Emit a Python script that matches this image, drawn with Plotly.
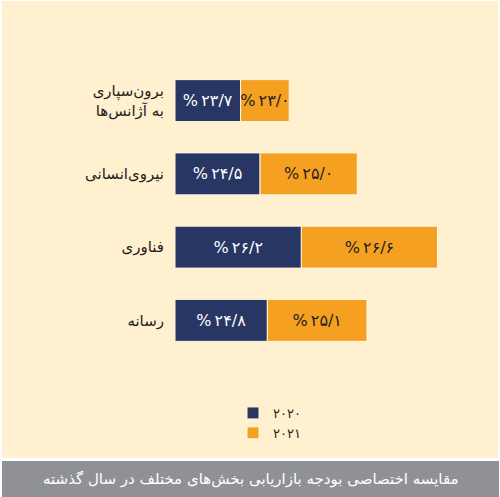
import plotly.graph_objects as go

# ---- data ----
categories = ["برون‌سپاری<br>به آژانس‌ها", "نیروی‌انسانی", "فناوری", "رسانه"]
values_2020 = [23.7, 24.5, 26.2, 24.8]
values_2021 = [23.0, 25.0, 26.6, 25.1]
series_names = ["۲۰۲۰", "۲۰۲۱"]
title_text = "مقایسه اختصاصی بودجه بازاریابی بخش‌های مختلف در سال گذشته"

BASELINE = 21.0  # bars in the reference are drawn from a baseline of ~21%

FA_DIGITS = str.maketrans("0123456789.", "۰۱۲۳۴۵۶۷۸۹/")


def fa_label(v):
    return "%\u2009" + f"{v:.1f}".translate(FA_DIGITS)


NAVY = "#283664"
ORANGE = "#F5A021"
BEIGE = "#FFF0CF"
GRAY = "#8F9194"
FONT = "DejaVu Sans"

W, H = 500, 497
PX_L, PX_R, PY_T, PY_B = 175, 480, 64, 357


def xp(px):
    return (px - PX_L) / (PX_R - PX_L)


def yp(py):
    return (PY_B - py) / (PY_B - PY_T)


len_2020 = [v - BASELINE for v in values_2020]
len_2021 = [v - BASELINE for v in values_2021]

fig = go.Figure()
fig.add_trace(go.Bar(
    name=series_names[0], y=categories, x=len_2020, base=[0] * len(categories),
    orientation="h", marker=dict(color=NAVY, line=dict(color="#FFF7E4", width=1)),
    text=[fa_label(v) for v in values_2020], textposition="inside",
    insidetextanchor="middle", textfont=dict(color="white", size=16, family=FONT),
    hoverinfo="skip",
))
fig.add_trace(go.Bar(
    name=series_names[1], y=categories, x=len_2021, base=len_2020,
    orientation="h", marker=dict(color=ORANGE, line=dict(color="#FFF7E4", width=1)),
    text=[fa_label(v) for v in values_2021], textposition="inside",
    insidetextanchor="middle", textfont=dict(color="#231f20", size=16, family=FONT),
    hoverinfo="skip",
))

fig.update_layout(
    width=W, height=H,
    margin=dict(l=PX_L, r=W - PX_R, t=PY_T, b=H - PY_B, pad=0),
    paper_bgcolor="white", plot_bgcolor="rgba(0,0,0,0)",
    barmode="overlay", bargap=0.427,
    uniformtext=dict(minsize=16, mode="show"),
    font=dict(family=FONT, color="#231f20"),
    xaxis=dict(range=[0, 12.55], visible=False, fixedrange=True),
    yaxis=dict(autorange="reversed", showgrid=False, zeroline=False, showline=False,
               ticks="", tickfont=dict(size=15, color="#231f20", family=FONT),
               ticklabelstandoff=10, fixedrange=True),
    legend=dict(x=xp(233), y=yp(398), xanchor="left", yanchor="top",
                orientation="v", bgcolor="rgba(0,0,0,0)",
                font=dict(size=13, color="#231f20", family=FONT),
                itemclick=False, itemdoubleclick=False),
    shapes=[
        dict(type="rect", xref="paper", yref="paper", layer="below",
             x0=xp(2), x1=xp(498), y0=yp(1), y1=yp(458),
             fillcolor=BEIGE, line=dict(width=0)),
        dict(type="rect", xref="paper", yref="paper", layer="below",
             x0=xp(2), x1=xp(499), y0=yp(461), y1=yp(497),
             fillcolor=GRAY, line=dict(width=0)),
    ],
    annotations=[
        dict(text=title_text, xref="paper", yref="paper", x=xp(251), y=yp(479),
             xanchor="center", yanchor="middle", showarrow=False,
             font=dict(size=15, color="white", family=FONT)),
    ],
)

fig.write_html("out.html")
